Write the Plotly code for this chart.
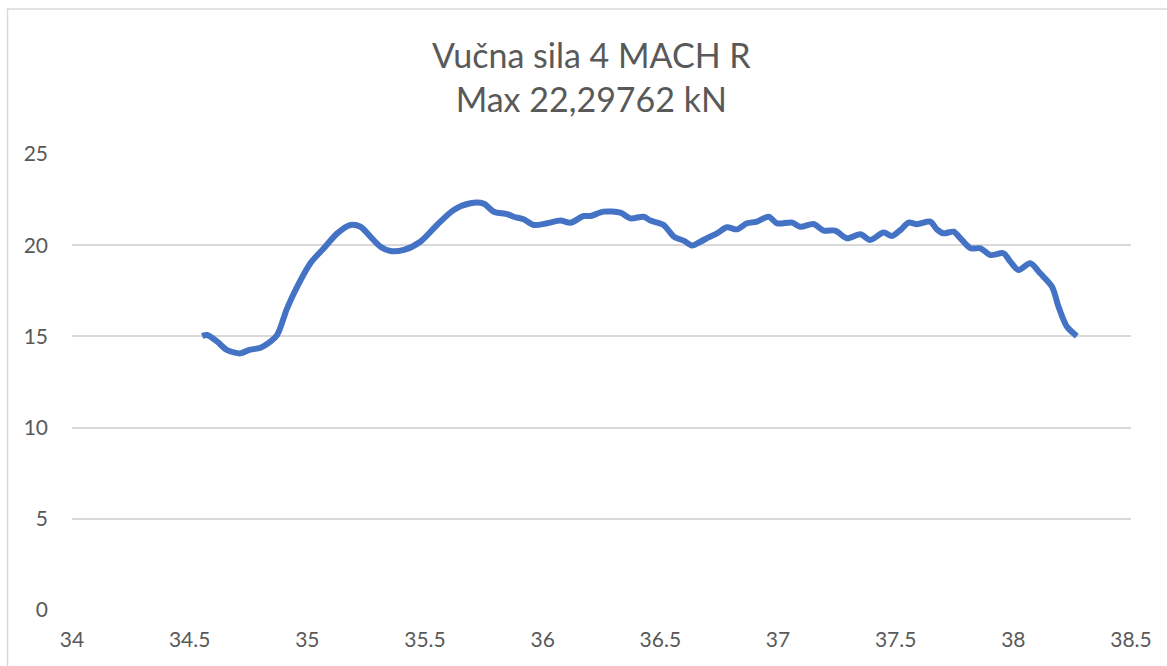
import plotly.graph_objects as go

x_vals = [34.553, 34.574, 34.617, 34.659, 34.716, 34.751, 34.801, 34.843, 34.872, 34.914,
          34.957, 35.013, 35.070, 35.127, 35.183, 35.226, 35.268, 35.311, 35.353, 35.410,
          35.480, 35.551, 35.622, 35.693, 35.749, 35.792, 35.849, 35.877, 35.919, 35.962,
          36.019, 36.075, 36.118, 36.174, 36.203, 36.259, 36.330, 36.373, 36.429, 36.458,
          36.514, 36.557, 36.599, 36.635, 36.670, 36.705, 36.741, 36.783, 36.826, 36.868,
          36.911, 36.960, 36.996, 37.060, 37.095, 37.151, 37.194, 37.243, 37.293, 37.350,
          37.392, 37.449, 37.484, 37.520, 37.555, 37.591, 37.647, 37.675, 37.704, 37.746,
          37.775, 37.818, 37.860, 37.903, 37.958, 37.987, 38.022, 38.072, 38.114, 38.164,
          38.192, 38.228, 38.270]
force_kn = [15.02, 15.08, 14.71, 14.25, 14.07, 14.25, 14.38, 14.71, 15.08, 16.54,
            17.73, 19.01, 19.83, 20.65, 21.11, 21.01, 20.47, 19.92, 19.68, 19.74,
            20.19, 21.11, 21.93, 22.30, 22.28, 21.84, 21.71, 21.56, 21.42, 21.11,
            21.20, 21.35, 21.23, 21.60, 21.60, 21.84, 21.78, 21.47, 21.56, 21.35,
            21.11, 20.47, 20.25, 19.98, 20.19, 20.43, 20.65, 20.98, 20.87, 21.20,
            21.29, 21.56, 21.20, 21.24, 21.01, 21.16, 20.80, 20.80, 20.38, 20.60,
            20.29, 20.69, 20.50, 20.83, 21.24, 21.15, 21.29, 20.87, 20.65, 20.74,
            20.38, 19.83, 19.83, 19.46, 19.56, 19.10, 18.64, 19.01, 18.46, 17.73,
            16.63, 15.53, 15.02]

title_text = "Vučna sila 4 MACH R<br>Max 22,29762 kN"
x_ticks = [34, 34.5, 35, 35.5, 36, 36.5, 37, 37.5, 38, 38.5]
x_tick_labels = ["34", "34.5", "35", "35.5", "36", "36.5", "37", "37.5", "38", "38.5"]
y_ticks = [0, 5, 10, 15, 20, 25]

fig = go.Figure()
fig.add_trace(go.Scatter(
    x=x_vals, y=force_kn, mode="lines",
    line=dict(color="#4472C4", width=6, shape="spline", smoothing=0.8),
    showlegend=False, hoverinfo="skip"))

W, H = 1167, 666
L, R, T, B = 71.5, 36, 154, 56
pw, ph = W - L - R, H - T - B

fig.update_layout(
    width=W, height=H,
    margin=dict(l=L, r=R, t=T, b=B, pad=0, autoexpand=False),
    paper_bgcolor="white", plot_bgcolor="white",
    font=dict(family="Lato", color="#595959"),
    xaxis=dict(range=[34, 38.5], tickvals=x_ticks, ticktext=x_tick_labels,
               showgrid=False, zeroline=False, showline=False, ticks="",
               automargin=False,
               tickfont=dict(size=21, color="#595959"), ticklabelstandoff=15),
    yaxis=dict(range=[0, 25], tickvals=y_ticks, showgrid=True, gridcolor="#D9D9D9",
               gridwidth=1.5, zeroline=False, showline=False, ticks="",
               automargin=False,
               tickfont=dict(size=21, color="#595959"), ticklabelstandoff=23),
)

fig.add_annotation(text=title_text, xref="paper", yref="paper",
                   x=(591 - L) / pw, y=(H - B - 76) / ph,
                   xanchor="center", yanchor="middle", showarrow=False,
                   font=dict(family="Lato", size=34, color="#595959"))

# outer chart border (partially visible, top and left)
x0 = (7 - L) / pw
x1 = (W + 5 - L) / pw
y1 = (H - B - 9) / ph
y0 = -(B + 5) / ph
fig.add_shape(type="rect", xref="paper", yref="paper", x0=x0, x1=x1, y0=y0, y1=y1,
              line=dict(color="#D9D9D9", width=1.5), fillcolor="rgba(0,0,0,0)", layer="below")

fig.write_html("out.html", config={"displayModeBar": False},
               post_script="document.body.style.margin='0';document.body.style.overflow='hidden';")
